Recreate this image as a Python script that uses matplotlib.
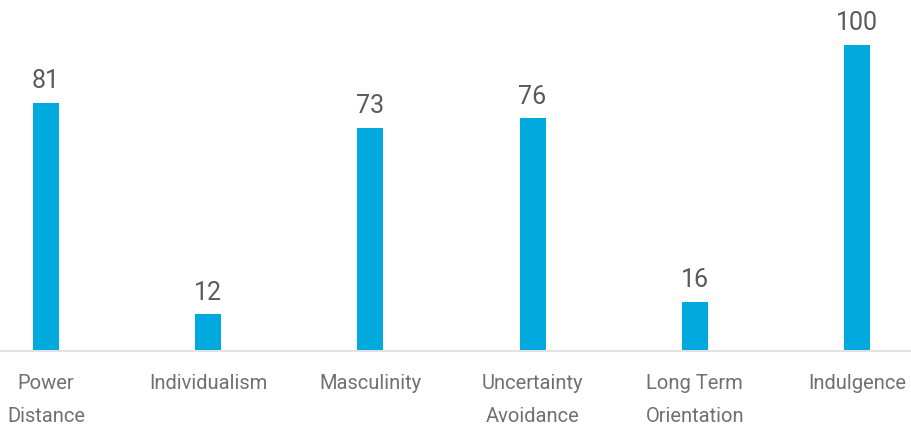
import matplotlib
matplotlib.use("Agg")
import matplotlib.pyplot as plt

categories = ["Power\nDistance", "Individualism", "Masculinity",
              "Uncertainty\nAvoidance", "Long Term\nOrientation", "Indulgence"]
values = [81, 12, 73, 76, 16, 100]

bar_color = "#00A9DE"

fig = plt.figure(figsize=(9.12, 4.25), dpi=100)
ax = fig.add_axes([0, 74/425, 1, 351/425])

x = list(range(len(values)))
ax.bar(x, values, width=0.16, color=bar_color, zorder=2)
ax.set_xlim(-0.284, 5.34)
ax.set_ylim(0, 114.7)

for xi, v in zip(x, values):
    ax.annotate(str(v), (xi, v), xytext=(0, 7), textcoords="offset points",
                ha="center", va="bottom", fontsize=18, color="#5a5a5a",
                family="Roboto")

ax.set_xticks(x)
ax.set_xticklabels(categories, fontsize=14.5, color="#707070", family="Roboto",
                   linespacing=1.95)
ax.tick_params(axis="x", length=0, pad=16.5)
ax.set_yticks([])
for s in ["top", "right", "left"]:
    ax.spines[s].set_visible(False)
ax.spines["bottom"].set_color("#e2e2e2")
ax.spines["bottom"].set_linewidth(1.5)

fig.savefig("out.png", dpi=100)
